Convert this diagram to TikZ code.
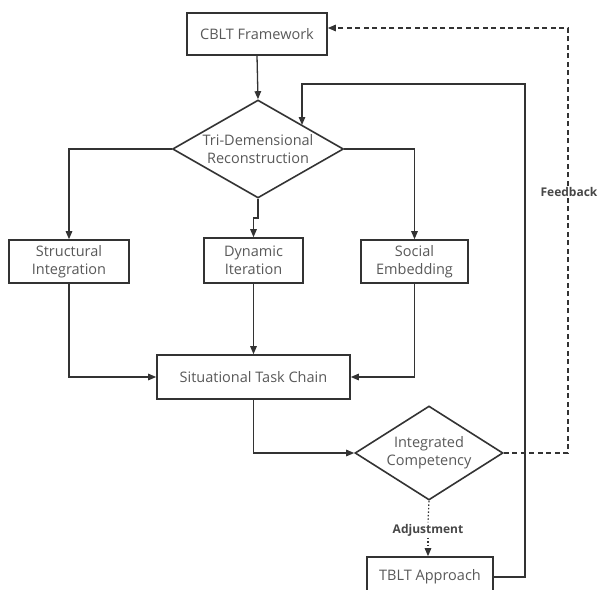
\documentclass[tikz,border=0pt]{standalone}
\usepackage{fontspec}
\setmainfont{Open Sans}
\usetikzlibrary{shapes.geometric,arrows.meta}
\definecolor{ln}{HTML}{333333}
\definecolor{tx}{HTML}{595959}
\begin{document}
\begin{tikzpicture}[x=1pt,y=-1pt,
  box/.style={draw=ln,line width=1.6pt,fill=white,text=tx,font=\fontsize{14.5}{18}\selectfont,align=center,inner sep=0pt},
  dia/.style={draw=ln,line width=1.6pt,fill=white,diamond,shape aspect=1.75,text=tx,font=\fontsize{14.5}{18}\selectfont,align=center,inner sep=0pt},
  conn/.style={draw=ln,line width=1.3pt,-{Triangle[length=8pt,width=6.5pt]}},
  lbl/.style={fill=white,text=ln!90,font=\fontsize{12}{14}\selectfont\bfseries,inner sep=1.5pt},
  fbline/.style={draw=ln,line width=1.2pt,dash pattern=on 5pt off 3.5pt},
  adjline/.style={draw=ln,line width=1.2pt,dash pattern=on 1.5pt off 2pt}]
\useasboundingbox (0,0) rectangle (599,589);
\node[box,minimum width=140pt,minimum height=42pt] (cblt) at (257,34) {CBLT Framework};
\node[dia,minimum width=171pt,minimum height=98pt] (tri) at (258,149) {Tri-Demensional\\Reconstruction};
\node[box,minimum width=120pt,minimum height=43pt] (si) at (69,261.5) {Structural\\Integration};
\node[box,minimum width=99pt,minimum height=45pt] (di) at (253.5,260.5) {Dynamic\\Iteration};
\node[box,minimum width=107pt,minimum height=43pt] (se) at (414.5,261.5) {Social\\Embedding};
\node[box,minimum width=193pt,minimum height=44pt] (stc) at (253.5,377) {Situational Task Chain};
\node[dia,minimum width=148pt,minimum height=94pt] (ic) at (429,453) {Integrated\\Competency};
\node[box,minimum width=126pt,minimum height=40pt] (tblt) at (430,577) {TBLT Approach};
\node[lbl] (adj) at (428,530) {Adjustment};
\coordinate (jog) at (258,218);
\coordinate (lr) at (525,84);
\coordinate (loopend) at (302,125);
\coordinate (fb) at (568,28);
\draw[conn] (cblt.south) -- (tri.north);
\draw[conn] (tri.west) -| (si.north);
\draw[conn] (tri.east) -| (se.north);
\draw[conn] (tri.south) -- (jog) -| (di.north);
\draw[conn] (di.south) -- (stc.north);
\draw[conn] (si.south) |- (stc.west);
\draw[conn] (se.south) |- (stc.east);
\draw[conn] (stc.south) |- (ic.west);
\draw[conn] (tblt.east) -| (lr) -| (loopend);
\draw[fbline,-{Triangle[length=8pt,width=6.5pt]}] (ic.east) -| (fb) -- (cblt.east |- fb);
\node[lbl] (fbl) at (569,192) {Feedback};
\draw[adjline] (ic.south) -- (adj.north);
\draw[adjline,-{Triangle[length=8pt,width=6.5pt]}] (adj.south) -- (adj.south |- tblt.north);
\end{tikzpicture}
\end{document}
